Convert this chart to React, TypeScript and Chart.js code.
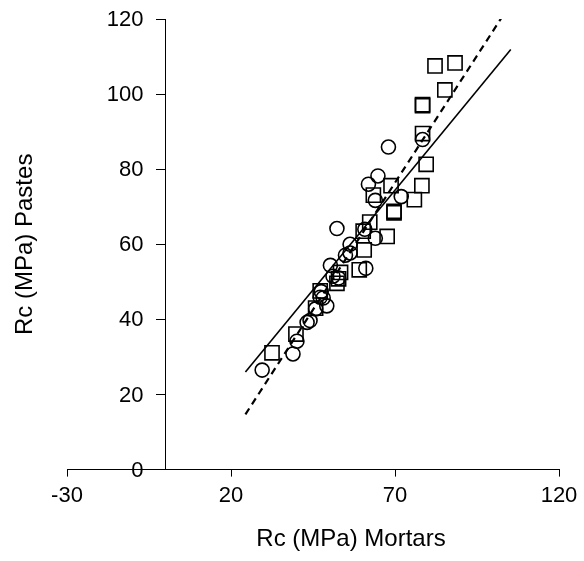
import React, { useEffect, useRef } from "react";
import { Chart, registerables } from "chart.js";

Chart.register(...registerables);

const squaresX = [32.5, 39.8, 45.8, 47.2, 52.3, 53.4, 52.8, 59.1, 60.6, 60.3, 62.3, 63.4, 67.6, 68.8, 69.7, 69.7, 75.9, 78.2, 79.5, 78.4, 78.4, 78.4, 85.2, 82.2, 88.3];
const squaresY = [31.1, 36.1, 43.0, 47.6, 49.6, 52.5, 50.8, 53.2, 58.5, 63.5, 65.9, 73.1, 62.1, 75.6, 68.8, 68.4, 71.9, 75.6, 81.3, 89.5, 96.9, 97.2, 101.1, 107.5, 108.3];
const circlesX = [29.5, 38.9, 40.1, 43.2, 44.1, 45.8, 47.2, 49.2, 48.1, 50.3, 52.3, 51.1, 52.8, 54.9, 56.3, 61.1, 60.8, 61.9, 64.8, 64.0, 64.0, 68.0, 71.9, 78.4, 56.3, 47.5];
const circlesY = [26.5, 30.8, 34.2, 39.2, 39.7, 42.8, 45.9, 43.6, 45.7, 54.4, 64.2, 51.5, 51.0, 57.1, 60.0, 53.6, 64.0, 76.0, 78.2, 71.7, 61.6, 85.9, 72.7, 87.9, 57.7, 47.4];
const solidLineX = [24.4, 105.3];
const solidLineY = [26.0, 111.9];
const dashedLineX = [24.4, 102.3];
const dashedLineY = [14.7, 120.1];
const xTicks = [-30, 20, 70, 120];
const yTicks = [0, 20, 40, 60, 80, 100, 120];
const xTitle = "Rc (MPa) Mortars";
const yTitle = "Rc (MPa) Pastes";

const FONT = "'Liberation Sans', Arial, sans-serif";

const toPts = (xs: number[], ys: number[]) => xs.map((x, i) => ({ x, y: ys[i] }));

const textPlugin = {
  id: "customText",
  afterDraw(chart: any) {
    const { ctx, chartArea, scales } = chart;
    ctx.save();
    ctx.fillStyle = "#000";
    // y tick labels, right-aligned left of the axis at x = 0
    const axisX = scales.x.getPixelForValue(0);
    ctx.font = `22px ${FONT}`;
    ctx.textAlign = "right";
    ctx.textBaseline = "middle";
    yTicks.forEach((v) => {
      ctx.fillText(String(v), axisX - 22, scales.y.getPixelForValue(v) + 1);
    });
    // x title
    ctx.font = `24px ${FONT}`;
    ctx.textAlign = "center";
    ctx.textBaseline = "middle";
    ctx.fillText(xTitle, 351, 539);
    // y title
    ctx.translate(25, (chartArea.top + chartArea.bottom) / 2);
    ctx.rotate(-Math.PI / 2);
    ctx.fillText(yTitle, 0, 0);
    ctx.restore();
  },
};

export default function App() {
  const ref = useRef<HTMLCanvasElement>(null);
  useEffect(() => {
    if (!ref.current) return;
    const chart = new Chart(ref.current, {
      type: "scatter",
      data: {
        datasets: [
          {
            label: "Squares",
            data: toPts(squaresX, squaresY),
            pointStyle: "rect",
            pointRadius: 10,
            pointBorderWidth: 1.6,
            borderColor: "#000",
            backgroundColor: "rgba(255,255,255,0)",
          },
          {
            label: "Circles",
            data: toPts(circlesX, circlesY),
            pointStyle: "circle",
            pointRadius: 7,
            pointBorderWidth: 1.6,
            borderColor: "#000",
            backgroundColor: "rgba(255,255,255,0)",
          },
          {
            label: "Solid",
            data: toPts(solidLineX, solidLineY),
            showLine: true,
            pointRadius: 0,
            borderColor: "#000",
            borderWidth: 1.6,
          },
          {
            label: "Dashed",
            data: toPts(dashedLineX, dashedLineY),
            showLine: true,
            pointRadius: 0,
            borderColor: "#000",
            borderWidth: 2.2,
            borderDash: [7, 5],
          },
        ],
      },
      options: {
        animation: false,
        responsive: true,
        maintainAspectRatio: false,
        layout: { padding: { left: 67, right: 25, top: 19, bottom: 46 } },
        plugins: { legend: { display: false }, tooltip: { enabled: false } },
        scales: {
          x: {
            type: "linear",
            min: -30,
            max: 120,
            afterBuildTicks: (s: any) => {
              s.ticks = xTicks.map((v) => ({ value: v }));
            },
            grid: { drawOnChartArea: false, drawTicks: true, tickLength: 7, color: "#000", lineWidth: 1 },
            border: { display: true, color: "#000", width: 1 },
            ticks: { color: "#000", font: { family: FONT, size: 22 }, padding: 6, maxRotation: 0 },
          },
          y: {
            type: "linear",
            min: 0,
            max: 120,
            position: { x: 0 } as any,
            afterBuildTicks: (s: any) => {
              s.ticks = yTicks.map((v) => ({ value: v }));
            },
            grid: { drawOnChartArea: false, drawTicks: true, tickLength: 9, color: "#000", lineWidth: 1 },
            border: { display: true, color: "#000", width: 1 },
            ticks: { display: false, font: { family: FONT, size: 22 } },
          },
        },
      },
      plugins: [textPlugin],
    });
    return () => chart.destroy();
  }, []);
  return (
    <div style={{ position: "fixed", left: 0, top: 0, width: 584, height: 561, background: "#fff" }}>
      <canvas ref={ref} />
    </div>
  );
}
